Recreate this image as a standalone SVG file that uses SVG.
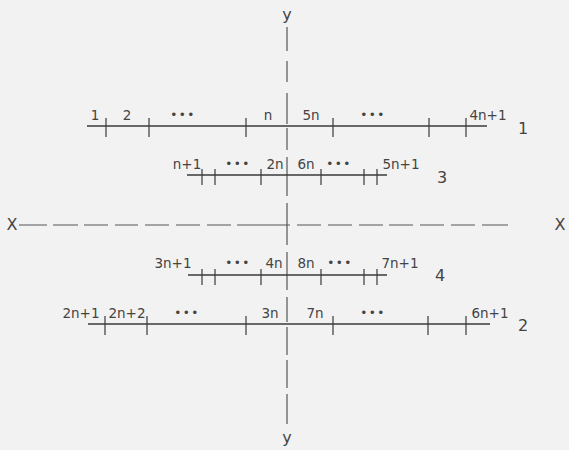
<svg xmlns="http://www.w3.org/2000/svg" width="569" height="450" viewBox="0 0 569 450">
<style>
.ln{stroke:#3a3a3a;stroke-width:1.5;fill:none}
.tk{stroke:#3a3a3a;stroke-width:1.2;fill:none}
.ax{stroke:#555;stroke-width:1.2;fill:none}
text{font-family:"DejaVu Sans","Liberation Sans",sans-serif;font-size:13.5px;fill:#444;text-anchor:middle}
.dots{font-size:12px;letter-spacing:1.5px}
.big{font-size:16px}
</style>
<rect width="569" height="450" fill="#f2f2f2"/>
<g id="axes">
<path class="ax" d="M287,27V51M287,61V82M287,93V124M287,128V150M287,157V196M287,203V245M287,252V290M287,297V322M287,327V355M287,360V388M287,394V424"/>
<path class="ax" d="M19,225H47M53,225H78M84,225H108M115,225H138M145,225H169M176,225H200M207,225H231M237,225H290M297,225H321M328,225H352M359,225H383M389,225H413M420,225H444M451,225H475M482,225H508"/>
<text x="287" y="20" class="big">y</text>
<text x="287" y="443" class="big">y</text>
<text x="12" y="230" class="big">X</text>
<text x="560" y="230" class="big">X</text>
</g>
<g id="row1">
<path class="ln" d="M87,126H487"/>
<path class="tk" d="M106,118V137M149,118V137M246,118V137M333,118V137M429,118V137M466,118V137"/>
<text x="95" y="120">1</text>
<text x="127" y="120">2</text>
<text x="183" y="119" class="dots">•••</text>
<text x="268" y="120">n</text>
<text x="311" y="120">5n</text>
<text x="373" y="119" class="dots">•••</text>
<text x="488" y="120">4n+1</text>
<text x="523" y="134" class="big">1</text>
</g>
<g id="row3">
<path class="ln" d="M187,175H387"/>
<path class="tk" d="M202,169V185M215,169V185M261,169V185M321,169V185M364,169V185M377,169V185"/>
<text x="187" y="169">n+1</text>
<text x="238" y="168" class="dots">•••</text>
<text x="275" y="169">2n</text>
<text x="306" y="169">6n</text>
<text x="339" y="168" class="dots">•••</text>
<text x="401" y="169">5n+1</text>
<text x="442" y="183" class="big">3</text>
</g>
<g id="row4">
<path class="ln" d="M188,275H387"/>
<path class="tk" d="M202,269V285M215,269V285M261,269V285M321,269V285M364,269V285M377,269V285"/>
<text x="173" y="268">3n+1</text>
<text x="238" y="267" class="dots">•••</text>
<text x="274" y="268">4n</text>
<text x="306" y="268">8n</text>
<text x="340" y="267" class="dots">•••</text>
<text x="400" y="268">7n+1</text>
<text x="440" y="281" class="big">4</text>
</g>
<g id="row2">
<path class="ln" d="M88,324H490"/>
<path class="tk" d="M105,316V335M147,316V335M246,316V335M333,316V335M428,316V335M466,316V335"/>
<text x="81" y="318">2n+1</text>
<text x="127" y="318">2n+2</text>
<text x="187" y="317" class="dots">•••</text>
<text x="270" y="318">3n</text>
<text x="315" y="318">7n</text>
<text x="373" y="317" class="dots">•••</text>
<text x="490" y="318">6n+1</text>
<text x="523" y="331" class="big">2</text>
</g>
</svg>
